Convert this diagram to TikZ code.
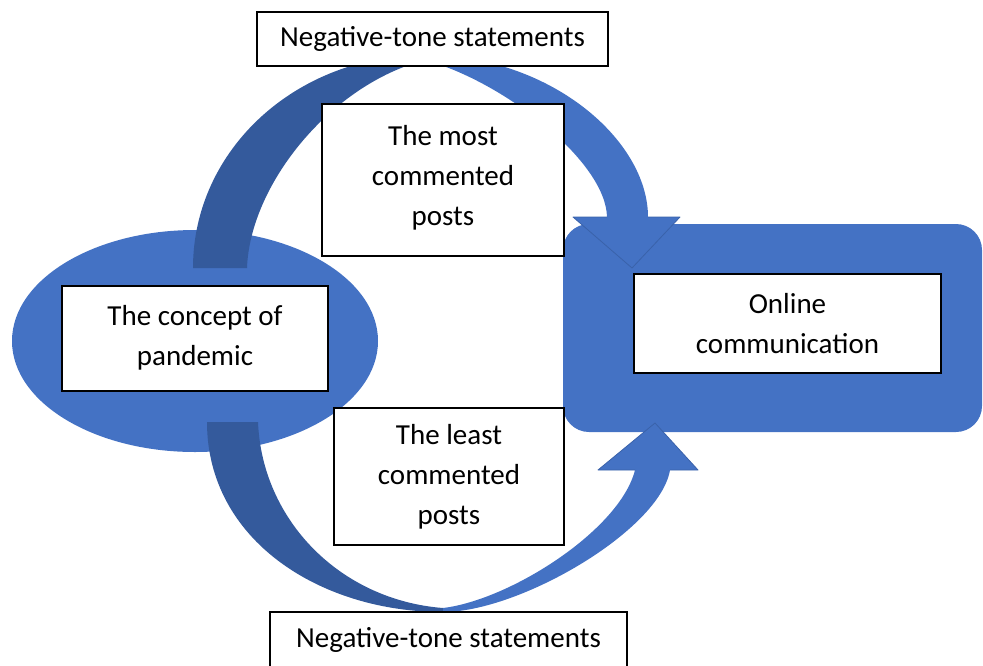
\documentclass[tikz,border=0pt]{standalone}
\usepackage{fontspec}
\setmainfont{Carlito}
\usepackage{xcolor}
\usepackage{tikz}
\usetikzlibrary{shapes.geometric}
\definecolor{officeblue}{RGB}{68,114,196}
\definecolor{shadeblue}{RGB}{52,90,156}
\definecolor{edgeblue}{RGB}{58,98,170}

\begin{document}
\begin{tikzpicture}[x=1pt, y=-1pt,
	textbox/.style={draw=black, line width=1.3pt, fill=white, align=center,
		inner sep=0pt, font=\fontsize{29}{40}\selectfont},
	backband/.style={fill=shadeblue},
	frontband/.style={fill=officeblue},
	headedge/.style={draw=edgeblue, line width=0.8pt, line join=round}]
	\clip (0,0) rectangle (983,665);
	\node[ellipse, fill=officeblue, inner sep=0pt,
		minimum width=366pt, minimum height=222pt] (oval) at (195,341) {};
	\node[rectangle, rounded corners=26pt, fill=officeblue, inner sep=0pt,
		minimum width=419pt, minimum height=208pt] (hub) at (772.5,328) {};
	\fill[backband]
		(193,268) .. controls (193,150) and (296,55) .. (425,55)
		-- (425,60) .. controls (330,85) and (250,185) .. (247,268) -- cycle;
	\fill[frontband]
		(425,55) .. controls (550,55) and (648,140) .. (648,217)
		-- (680,217) -- (632,268) -- (573,217) -- (607,217)
		.. controls (606,162) and (505,82) .. (425,60) -- cycle;
	\draw[headedge] (607,217) -- (573,217) -- (632,268) -- (680,217) -- (648,217);
	\fill[backband]
		(207,422) .. controls (207,540) and (320,612) .. (443,612)
		-- (443,608) .. controls (340,600) and (262,520) .. (258,422) -- cycle;
	\fill[frontband]
		(443,612) .. controls (520,612) and (660,530) .. (670,470)
		-- (698,470) -- (655,423) -- (598,470) -- (635,470)
		.. controls (620,530) and (510,600) .. (443,608) -- cycle;
	\draw[headedge] (635,470) -- (598,470) -- (655,423) -- (698,470) -- (670,470);
	\node[textbox, minimum width=351pt, minimum height=54pt] (topnote)
		at (432.5,39) {Negative-tone statements};
	\node[textbox, minimum width=242pt, minimum height=152pt] (mostposts)
		at (443,180) {The most\\commented\\posts\\[-30pt]};
	\node[textbox, minimum width=266pt, minimum height=105pt] (concept)
		at (195,338.5) {The concept of\\pandemic\\[-33pt]};
	\node[textbox, minimum width=230pt, minimum height=137pt] (leastposts)
		at (449,476.5) {The least\\commented\\posts};
	\node[textbox, minimum width=307pt, minimum height=99pt] (online)
		at (787.5,323.5) {Online\\communication};
	\node[textbox, minimum width=357pt, minimum height=56pt] (bottomnote)
		at (448.5,640) {Negative-tone statements};
\end{tikzpicture}
\end{document}
